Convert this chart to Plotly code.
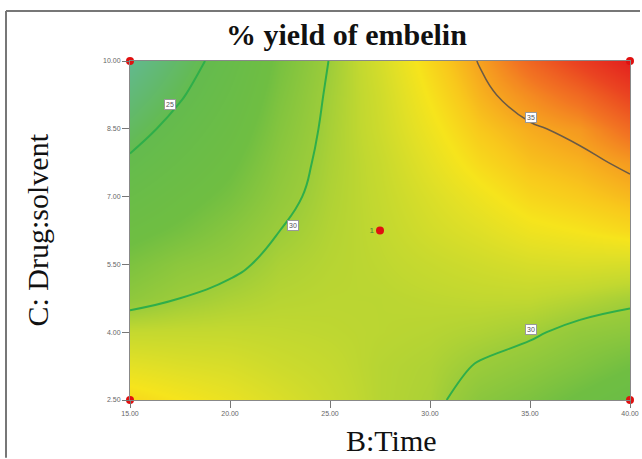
import plotly.graph_objects as go

# ---- data ----
time_vals = [15, 17.5, 20, 22.5, 25, 27.5, 30, 32.5, 35, 37.5, 40]          # B: Time
ratio_vals = [2.5, 3.25, 4.0, 4.75, 5.5, 6.25, 7.0, 7.75, 8.5, 9.25, 10.0]  # C: Drug:solvent
yield_grid = [
    [33.5, 33.0, 32.5, 31.9, 31.3, 30.7, 30.4, 29.2, 28.6, 27.8, 27.0],
    [32.3, 32.0, 31.8, 31.4, 31.1, 30.7, 30.5, 29.9, 29.4, 28.8, 28.1],
    [31.1, 31.1, 31.1, 31.0, 30.9, 30.8, 30.7, 30.5, 30.2, 29.6, 29.3],
    [29.4, 30.0, 30.4, 30.7, 30.8, 30.8, 30.9, 31.0, 31.0, 30.7, 30.3],
    [28.6, 29.3, 29.7, 30.4, 30.7, 30.9, 31.2, 31.5, 31.8, 31.9, 31.8],
    [27.6, 28.3, 29.1, 30.0, 30.6, 31.0, 31.6, 32.1, 32.7, 33.0, 33.4],
    [26.5, 27.5, 28.4, 29.6, 30.5, 31.1, 31.9, 32.7, 33.5, 33.9, 34.4],
    [25.3, 26.6, 27.8, 29.3, 30.4, 31.2, 32.3, 33.4, 34.2, 34.6, 35.3],
    [24.2, 25.7, 27.2, 29.0, 30.3, 31.4, 32.7, 34.0, 34.8, 35.4, 36.9],
    [23.1, 24.8, 26.6, 28.7, 30.2, 31.5, 33.1, 34.6, 35.8, 37.0, 38.6],
    [22.0, 24.0, 26.0, 28.4, 30.05, 31.7, 33.5, 35.1, 37.1, 38.8, 40.5],
]
green_levels = [25, 30]
dark_levels = [35]

design_B = [15, 15, 40, 40, 27.5]
design_C = [2.5, 10, 10, 2.5, 6.25]
design_text = ["", "", "", "", "1"]

label_B = [17.0, 23.15, 35.05, 35.05]
label_C = [9.03, 6.35, 8.76, 4.05]
label_text = ["25", "30", "35", "30"]

x_ticks = [15, 20, 25, 30, 35, 40]
y_ticks = [2.5, 4.0, 5.5, 7.0, 8.5, 10.0]

# ---- figure ----
zmin, zmax = 22, 40.5
stops = [(22, "#62b98f"), (23.5, "#62b970"), (25, "#64bb4e"), (28, "#6fbe42"),
         (30, "#9ccc3a"), (31, "#c2d830"), (32.2, "#e2e026"), (33.0, "#f6e41c"),
         (34.0, "#f8c81c"), (35.0, "#f6a41f"), (36.5, "#f27522"), (38.5, "#ea4421"),
         (40.5, "#e3201e")]
cscale = [[(v - zmin) / (zmax - zmin), c] for v, c in stops]

fig = go.Figure()
fig.add_trace(go.Heatmap(x=time_vals, y=ratio_vals, z=yield_grid, zsmooth="best",
                         colorscale=cscale, zmin=zmin, zmax=zmax, showscale=False,
                         hoverinfo="skip"))
fig.add_trace(go.Contour(x=time_vals, y=ratio_vals, z=yield_grid, showscale=False,
                         contours=dict(coloring="none", start=min(green_levels),
                                       end=max(green_levels), size=5),
                         line=dict(color="#2fae4a", width=2, smoothing=1.3),
                         hoverinfo="skip"))
fig.add_trace(go.Contour(x=time_vals, y=ratio_vals, z=yield_grid, showscale=False,
                         contours=dict(coloring="none", start=dark_levels[0],
                                       end=dark_levels[-1], size=1),
                         line=dict(color="#6b5a45", width=1.5, smoothing=1.3),
                         hoverinfo="skip"))
fig.add_trace(go.Scatter(x=design_B, y=design_C, mode="markers+text", text=design_text,
                         textposition="middle left",
                         textfont=dict(size=8, color="#3a8a3a", family="Liberation Sans"),
                         marker=dict(color="#e01010", size=8), cliponaxis=False,
                         hoverinfo="skip", showlegend=False))

for bx, cy, t in zip(label_B, label_C, label_text):
    fig.add_annotation(x=bx, y=cy, text=t, showarrow=False,
                       font=dict(size=7, color="#555", family="Liberation Sans"),
                       bgcolor="white", bordercolor="#999", borderwidth=1, borderpad=1)

axis_common = dict(showgrid=False, zeroline=False, showline=True, linecolor="#888",
                   linewidth=1, mirror=True, ticks="outside", ticklen=7, tickcolor="#777",
                   automargin=False,
                   tickfont=dict(size=7, color="#666", family="Liberation Sans"))
fig.update_xaxes(range=[15, 40], tickvals=x_ticks,
                 ticktext=[f"{v:.2f}" for v in x_ticks], **axis_common)
fig.update_yaxes(range=[2.5, 10], tickvals=y_ticks,
                 ticktext=[f"{v:.2f}" for v in y_ticks], **axis_common)

fig.add_annotation(text="<b>% yield of embelin</b>", xref="paper", yref="paper",
                   x=0.432, y=1.077, xanchor="center", yanchor="middle", showarrow=False,
                   font=dict(size=30, color="#111", family="Liberation Serif"))
fig.add_annotation(text="B:Time", xref="paper", yref="paper",
                   x=0.522, y=-0.118, xanchor="center", yanchor="middle", showarrow=False,
                   font=dict(size=30, color="#111", family="Liberation Serif"))
fig.add_annotation(text="C: Drug:solvent", xref="paper", yref="paper",
                   x=-0.186, y=0.5, xanchor="center", yanchor="middle", showarrow=False,
                   textangle=-90,
                   font=dict(size=30, color="#111", family="Liberation Serif"))

# outer frame (top and left edges)
fig.add_shape(type="line", xref="paper", yref="paper", x0=-0.248, x1=1.02,
              y0=1.1475, y1=1.1475, line=dict(color="#777", width=2))
fig.add_shape(type="line", xref="paper", yref="paper", x0=-0.248, x1=-0.248,
              y0=1.1475, y1=-0.17, line=dict(color="#777", width=2))

fig.update_layout(width=642, height=459, autosize=False,
                  margin=dict(l=130, r=12, t=61, b=59, autoexpand=False),
                  paper_bgcolor="white", plot_bgcolor="white", showlegend=False)

fig.write_html("out.html", config={"displayModeBar": False, "responsive": False},
               post_script="document.body.style.margin='0';"
                           "document.body.style.overflow='hidden';")
